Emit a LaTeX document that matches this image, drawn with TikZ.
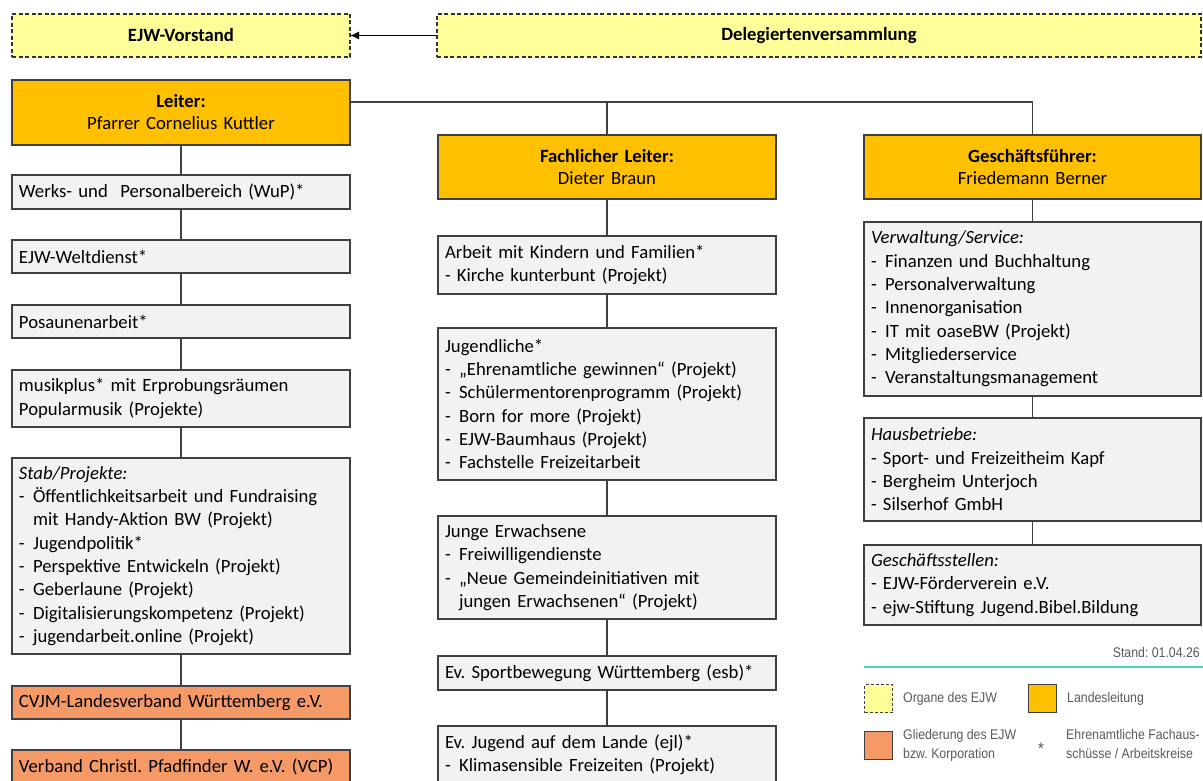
\documentclass[tikz,border=0pt]{standalone}
\usepackage{fontspec}
\setmainfont{Carlito}
\newfontfamily\legendfont[FakeStretch=0.88]{Liberation Sans}
\usepackage{tikz}
\usetikzlibrary{positioning,arrows,arrows.meta}
\frenchspacing

\definecolor{organgelb}{HTML}{FFFF99}
\definecolor{leitgold}{HTML}{FFC000}
\definecolor{boxgrau}{HTML}{F2F2F2}
\definecolor{gliedorange}{HTML}{F59A66}
\definecolor{randgrau}{HTML}{404040}
\definecolor{standlinie}{HTML}{40D9B0}
\definecolor{legtextgrau}{HTML}{595959}

\tikzset{
	kasten/.style={draw=randgrau, line width=1.2pt, outer sep=0pt, inner xsep=7pt, inner ysep=0pt, font=\fontsize{18.7}{23.3}\selectfont},
	organ/.style={kasten, draw=black!80, dash pattern=on 4pt off 2.5pt, fill=organgelb, minimum height=43pt, font=\fontsize{18.7}{22}\selectfont\bfseries},
	leitung/.style={kasten, fill=leitgold, align=center, text width=324pt, minimum height=65pt, font=\fontsize{18.7}{22}\selectfont},
	einheit/.style={kasten, fill=boxgrau, align=left, text width=324pt},
	glied/.style={kasten, fill=gliedorange, align=left, text width=324pt},
	verbind/.style={draw=randgrau, line width=1.2pt},
	legkasten/.style={draw=randgrau, line width=1pt, minimum size=28pt, inner sep=0pt},
	legtext/.style={font=\legendfont\fontsize{14}{19}\selectfont, text=legtextgrau, align=left, inner sep=0pt, anchor=west}
}
\newcommand{\stich}{-\hspace{0.45em}}

\begin{document}
\begin{tikzpicture}[x=1pt,y=-1pt]
	\useasboundingbox (0,0) rectangle (1203,781);
	\clip (0,0) rectangle (1203,781);

	\node[organ, minimum width=338pt, anchor=north west] (vorstand) at (12,14) {EJW-Vorstand};
	\node[organ, minimum width=764pt, anchor=north west] (delegiert) at (437,14) {Delegiertenversammlung};
	\draw[verbind, draw=black, -{Latex[length=9pt,width=8pt]}] (delegiert) -- (vorstand);

	\node[leitung, anchor=north west] (leiter) at (12,80) {\textbf{Leiter:}\\Pfarrer Cornelius Kuttler};
	\node[einheit, minimum height=34pt, below=30pt of leiter] (wup) {Werks- und\ \ Personalbereich (WuP)*};
	\node[einheit, minimum height=33pt, below=31pt of wup] (welt) {EJW-Weltdienst*};
	\node[einheit, minimum height=33pt, below=32pt of welt] (posaune) {Posaunenarbeit*};
	\node[einheit, minimum height=57pt, below=32pt of posaune] (musik) {musikplus* mit Erprobungsräumen\\Popularmusik (Projekte)};
	\node[einheit, minimum height=196pt, below=31pt of musik] (stab) {\textit{Stab/Projekte:}\\
		\stich Öffentlichkeitsarbeit und Fundraising\\
		\phantom{\stich}mit Handy-Aktion BW (Projekt)\\
		\stich Jugendpolitik*\\
		\stich Perspektive Entwickeln (Projekt)\\
		\stich Geberlaune (Projekt)\\
		\stich Digitalisierungskompetenz (Projekt)\\
		\stich jugendarbeit.online (Projekt)};
	\node[glied, minimum height=33pt, below=32pt of stab] (cvjm) {CVJM-Landesverband Württemberg e.V.};
	\node[glied, minimum height=34pt, below=31pt of cvjm] (vcp) {Verband Christl. Pfadfinder W. e.V. (VCP)};

	\node[leitung, minimum height=64pt, anchor=north west] (fachl) at (438,135) {\textbf{Fachlicher Leiter:}\\Dieter Braun};
	\node[einheit, minimum height=58pt, below=37pt of fachl] (kinder) {Arbeit mit Kindern und Familien*\\
		- Kirche kunterbunt (Projekt)};
	\node[einheit, minimum height=152pt, below=34pt of kinder] (jugend) {Jugendliche*\\
		\stich „Ehrenamtliche gewinnen“ (Projekt)\\
		\stich Schülermentorenprogramm (Projekt)\\
		\stich Born for more (Projekt)\\
		\stich EJW-Baumhaus (Projekt)\\
		\stich Fachstelle Freizeitarbeit};
	\node[einheit, minimum height=103pt, below=36pt of jugend] (junge) {Junge Erwachsene\\
		\stich Freiwilligendienste\\
		\stich „Neue Gemeindeinitiativen mit\\
		\phantom{\stich}jungen Erwachsenen“ (Projekt)};
	\node[einheit, minimum height=34pt, below=37pt of junge] (esb) {Ev. Sportbewegung Württemberg (esb)*};
	\node[einheit, minimum height=58pt, below=36pt of esb] (ejl) {Ev. Jugend auf dem Lande (ejl)*\\
		\stich Klimasensible Freizeiten (Projekt)};

	\node[leitung, minimum height=64pt, text width=323pt, anchor=north west] (gf) at (864,135) {\textbf{Geschäftsführer:}\\Friedemann Berner};
	\node[einheit, minimum height=174pt, text width=323pt, below=23pt of gf] (verw) {\textit{Verwaltung/Service:}\\
		\stich Finanzen und Buchhaltung\\
		\stich Personalverwaltung\\
		\stich Innenorganisation\\
		\stich IT mit oaseBW (Projekt)\\
		\stich Mitgliederservice\\
		\stich Veranstaltungsmanagement};
	\node[einheit, minimum height=103pt, text width=323pt, below=22pt of verw] (haus) {\textit{Hausbetriebe:}\\
		- Sport- und Freizeitheim Kapf\\
		- Bergheim Unterjoch\\
		- Silserhof GmbH};
	\node[einheit, minimum height=80pt, text width=323pt, below=24pt of haus] (gst) {\textit{Geschäftsstellen:}\\
		- EJW-Förderverein e.V.\\
		- ejw-Stiftung Jugend.Bibel.Bildung};

	\coordinate (bus) at ([yshift=-22pt]leiter.north east);
	\draw[verbind] (bus) -| (gf.north);
	\draw[verbind] (fachl.north) -- (fachl.north |- bus);
	\foreach \oben/\unten in {leiter/wup, wup/welt, welt/posaune, posaune/musik, musik/stab, stab/cvjm, cvjm/vcp,
		fachl/kinder, kinder/jugend, jugend/junge, junge/esb, esb/ejl, gf/verw, verw/haus, haus/gst}
		\draw[verbind] (\oben.south) -- (\unten.north);

	\node[legtext, anchor=base east] (stand) at (1200,657) {Stand: 01.04.26};
	\draw[standlinie, line width=1.5pt] (864,667) -- (1203,667);
	\node[legkasten, fill=organgelb, dash pattern=on 3pt off 2pt, anchor=north west] (legorgan) at (864,684) {};
	\node[legtext, right=10pt of legorgan] (legorgantext) {Organe des EJW};
	\node[legkasten, fill=leitgold, anchor=north west] (legleit) at (1028,684) {};
	\node[legtext, right=10pt of legleit] (legleittext) {Landesleitung};
	\node[legkasten, fill=gliedorange, anchor=north west] (legglied) at (864,731) {};
	\node[legtext, right=10pt of legglied] (leggliedtext) {Gliederung des EJW\\bzw. Korporation};
	\node[legtext, anchor=center, font=\legendfont\fontsize{17}{19}\selectfont] (legstern) at (1041,749) {*};
	\node[legtext] (legsterntext) at (1066,744) {Ehrenamtliche Fachaus-\\schüsse / Arbeitskreise};
\end{tikzpicture}
\end{document}
